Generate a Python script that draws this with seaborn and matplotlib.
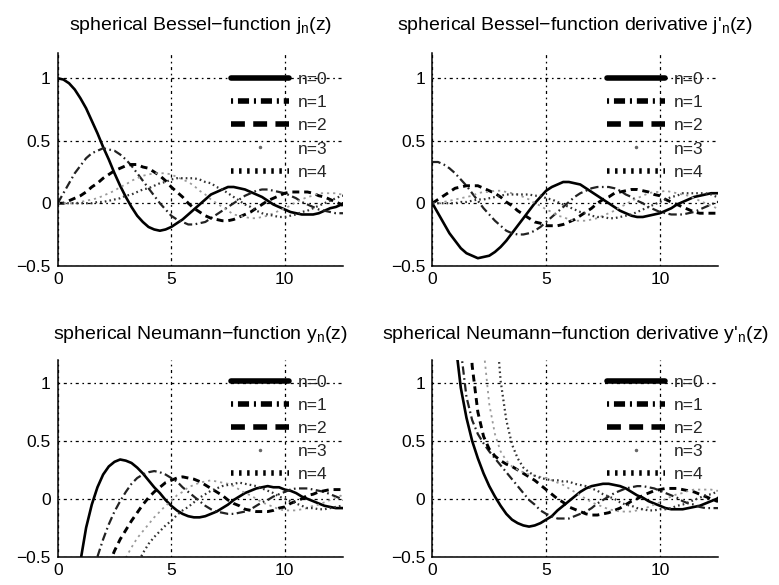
import numpy as np
import matplotlib
matplotlib.use("Agg")
import matplotlib.pyplot as plt
import seaborn as sns
from matplotlib.lines import Line2D

# ---------------- data (argument z, function values in hundredths) ----------------
z = [0, 0.25, 0.5, 0.75, 1.0, 1.25, 1.5, 1.75, 2.0, 2.25, 2.5, 2.75, 3.0, 3.25, 3.5,
     3.75, 4.0, 4.25, 4.5, 4.75, 5.0, 5.25, 5.5, 5.75, 6.0, 6.25, 6.5, 6.75, 7.0, 7.25,
     7.5, 7.75, 8.0, 8.25, 8.5, 8.75, 9.0, 9.25, 9.5, 9.75, 10.0, 10.25, 10.5, 10.75,
     11.0, 11.25, 11.5, 11.75, 12.0, 12.25, 12.5, 12.566]

j0 = [100, 99, 96, 91, 84, 76, 66, 56, 45, 35, 24, 14, 5, -3, -10, -15, -19, -21, -22, -21,
      -19, -16, -13, -9, -5, -1, 3, 7, 9, 11, 13, 13, 12, 11, 9, 7, 5, 2, -1, -3, -5, -7,
      -8, -9, -9, -9, -8, -6, -4, -3, -1, 0]
j1 = [0, 8, 16, 24, 30, 36, 40, 42, 44, 43, 42, 39, 35, 30, 24, 18, 12, 6, 0, -5, -10, -13,
      -15, -17, -17, -16, -15, -12, -9, -6, -3, 0, 3, 6, 8, 10, 11, 11, 10, 9, 8, 6, 4, 1,
      -1, -3, -5, -6, -7, -8, -8, -8]
j2 = [0, 0, 2, 4, 6, 9, 13, 16, 20, 23, 26, 28, 30, 31, 31, 29, 28, 25, 22, 18, 13, 9, 5, 0,
      -4, -7, -10, -12, -13, -14, -14, -13, -11, -9, -7, -4, -1, 2, 4, 6, 8, 9, 9, 9, 9, 8,
      6, 5, 3, 1, -1, -2]
j3 = [0, 0, 0, 0, 1, 2, 3, 4, 6, 8, 10, 13, 15, 18, 20, 22, 23, 24, 24, 24, 23, 21, 19, 17,
      14, 10, 7, 3, 0, -3, -6, -9, -10, -11, -12, -12, -11, -10, -8, -6, -4, -2, 1, 3, 5, 6,
      8, 8, 8, 8, 7, 7]
j4 = [0, 0, 0, 0, 0, 0, 0, 1, 1, 2, 3, 4, 6, 7, 9, 11, 12, 14, 16, 17, 19, 20, 20, 20, 20,
      19, 17, 16, 13, 11, 8, 5, 2, -1, -3, -6, -8, -9, -10, -11, -11, -10, -9, -7, -6, -4,
      -2, 0, 2, 4, 6, 6]

jd0 = [0, -8, -16, -24, -30, -36, -40, -42, -44, -43, -42, -39, -35, -30, -24, -18, -12, -6,
       0, 5, 10, 13, 15, 17, 17, 16, 15, 12, 9, 6, 3, 0, -3, -6, -8, -10, -11, -11, -10, -9,
       -8, -6, -4, -1, 1, 3, 5, 6, 7, 8, 8, 8]
jd1 = [33, 33, 31, 28, 24, 19, 14, 8, 2, -4, -9, -14, -18, -22, -24, -25, -25, -24, -22, -19,
       -15, -11, -7, -3, 1, 5, 8, 10, 12, 13, 13, 13, 12, 10, 7, 5, 2, 0, -3, -5, -7, -8, -9,
       -9, -9, -8, -7, -5, -3, -1, 1, 1]
jd2 = [0, 3, 6, 9, 12, 13, 14, 14, 14, 12, 10, 8, 5, 1, -2, -6, -9, -12, -15, -16, -18, -18,
       -18, -17, -15, -13, -10, -7, -4, 0, 3, 5, 8, 9, 10, 11, 11, 10, 9, 7, 6, 3, 1, -1, -3,
       -5, -7, -8, -8, -8, -8, -8]
jd3 = [0, 0, 1, 2, 3, 4, 5, 6, 8, 9, 9, 10, 10, 9, 8, 7, 5, 3, 0, -2, -5, -7, -10, -11, -13,
       -14, -14, -14, -13, -12, -10, -8, -6, -3, -1, 2, 4, 6, 8, 9, 9, 10, 9, 8, 7, 6, 4, 2,
       0, -2, -4, -4]
jd4 = [0, 0, 0, 0, 0, 1, 1, 2, 3, 3, 4, 5, 6, 7, 7, 7, 7, 7, 6, 6, 4, 3, 1, -1, -3, -5, -7,
       -8, -10, -11, -11, -12, -12, -11, -10, -9, -7, -5, -3, -1, 1, 3, 5, 6, 8, 8, 8, 8, 8,
       7, 5, 5]

y0 = [None, None, None, None, -54, -25, -5, 10, 21, 28, 32, 34, 33, 31, 27, 22, 16, 10, 5, -1,
      -6, -10, -13, -15, -16, -16, -15, -13, -11, -8, -5, -1, 2, 5, 7, 9, 10, 11, 10, 10, 8,
      7, 5, 2, 0, -2, -4, -6, -7, -8, -8, -8]
y1 = [None, None, None, None, None, None, None, -50, -35, -22, -11, -2, 6, 13, 18, 21, 23, 24,
      23, 21, 18, 15, 10, 6, 2, -2, -6, -9, -11, -12, -13, -13, -12, -11, -9, -6, -3, -1, 2,
      4, 6, 8, 9, 9, 9, 8, 7, 6, 4, 2, 0, -1]
y2 = [None, None, None, None, None, None, None, None, None, -57, -45, -35, -27, -19, -12, -5,
      1, 6, 10, 14, 16, 18, 19, 18, 17, 15, 12, 9, 6, 3, -1, -4, -6, -9, -10, -11, -11, -11,
      -10, -8, -7, -4, -2, 0, 3, 4, 6, 7, 8, 8, 8, 8]
y3 = [None, None, None, None, None, None, None, None, None, None, None, None, -51, -42, -34,
      -28, -22, -16, -11, -6, -2, 3, 6, 10, 12, 14, 15, 16, 15, 14, 13, 11, 8, 5, 3, 0, -3,
      -5, -7, -9, -10, -10, -10, -9, -8, -6, -5, -3, -1, 1, 3, 4]
y4 = [None, None, None, None, None, None, None, None, None, None, None, None, None, None, -57,
      -47, -39, -33, -28, -23, -19, -14, -10, -7, -3, 1, 4, 7, 9, 11, 12, 13, 14, 13, 12, 11,
      9, 7, 5, 2, 0, -2, -4, -6, -8, -8, -9, -9, -8, -7, -6, -6]

yd0 = [None, None, None, None, 138, 96, 70, 50, 35, 22, 11, 2, -6, -13, -18, -21, -23, -24,
       -23, -21, -18, -15, -10, -6, -2, 2, 6, 9, 11, 12, 13, 13, 12, 11, 9, 6, 3, 1, -2, -4,
       -6, -8, -9, -9, -9, -8, -7, -6, -4, -2, 0, 1]
yd1 = [None, None, None, None, None, 129, 88, 68, 56, 48, 41, 35, 29, 23, 17, 11, 5, -1, -5,
       -10, -13, -15, -17, -17, -17, -15, -13, -11, -8, -4, -1, 2, 5, 7, 9, 10, 11, 11, 10, 9,
       7, 5, 3, 1, -2, -4, -5, -7, -8, -8, -8, -8]
yd2 = [None, None, None, None, None, None, 199, 115, 75, 54, 43, 37, 33, 30, 28, 25, 22, 19,
       16, 12, 8, 4, 0, -3, -7, -9, -11, -13, -14, -14, -13, -12, -10, -8, -5, -2, 0, 3, 5,
       7, 8, 9, 9, 9, 8, 7, 6, 4, 2, 0, -2, -2]
yd3 = [None, None, None, None, None, None, None, None, None, 130, 82, 56, 41, 33, 28, 25, 23,
       21, 20, 19, 18, 16, 14, 12, 9, 6, 3, 0, -3, -5, -7, -9, -10, -11, -11, -11, -10, -9,
       -7, -5, -3, 0, 2, 4, 5, 7, 8, 8, 8, 8, 7, 7]
yd4 = [None, None, None, None, None, None, None, None, None, None, None, 163, 102, 68, 47, 35,
       27, 23, 20, 18, 17, 16, 16, 15, 15, 13, 12, 11, 9, 7, 4, 2, 0, -3, -5, -6, -8, -9,
       -10, -10, -9, -9, -8, -6, -5, -3, -1, 1, 3, 4, 6, 6]

labels = ["n=0", "n=1", "n=2", "n=3", "n=4"]
titles = ["spherical Bessel\u2212function j$_\\mathrm{n}$(z)",
          "spherical Bessel\u2212function derivative j'$_\\mathrm{n}$(z)",
          "spherical Neumann\u2212function y$_\\mathrm{n}$(z)",
          "spherical Neumann\u2212function derivative y'$_\\mathrm{n}$(z)"]
xticks = [0, 5, 10]
yticks = [-0.5, 0, 0.5, 1]
ytick_labels = ["\u22120.5", "0", "0.5", "1"]

# ---------------- style ----------------
sns.set_style("white")
plt.rcParams["font.family"] = ["Liberation Sans", "DejaVu Sans"]
plt.rcParams["mathtext.fontset"] = "custom"
plt.rcParams["mathtext.rm"] = "Liberation Sans"
plt.rcParams["mathtext.it"] = "Liberation Sans:italic"
plt.rcParams["lines.scale_dashes"] = False

line_styles = [
    dict(color="black", lw=1.9, linestyle="-"),
    dict(color="#222222", lw=1.6, linestyle=(0, (6, 2.5, 1.2, 2.5))),
    dict(color="black", lw=2.1, linestyle=(0, (5, 3.5))),
    dict(color="#9a9a9a", lw=1.3, linestyle=(0, (1.6, 2.8))),
    dict(color="#333333", lw=1.6, linestyle=(0, (1.2, 2.2))),
]
legend_handles = [
    Line2D([], [], color="black", lw=4, linestyle="-"),
    Line2D([], [], color="black", lw=4, linestyle=(0, (1.5, 3.5, 8, 3.5))),
    Line2D([], [], color="black", lw=4, linestyle=(0, (10, 6))),
    Line2D([], [], color="#666666", lw=0, linestyle="none", marker=".", markersize=3),
    Line2D([], [], color="black", lw=4, linestyle=(0, (1.8, 4))),
]

FS_TICK = 12.5
FS_TITLE = 14

panels = [
    (titles[0], [j0, j1, j2, j3, j4], [0.0741, 0.5458, 0.3662, 0.3631], 16.5, 0.912),
    (titles[1], [jd0, jd1, jd2, jd3, jd4], [0.5550, 0.5458, 0.3671, 0.3631], 16.5, 0.912),
    (titles[2], [y0, y1, y2, y3, y4], [0.0741, 0.0484, 0.3662, 0.3362], 15, 0.925),
    (titles[3], [yd0, yd1, yd2, yd3, yd4], [0.5550, 0.0484, 0.3671, 0.3362], 15, 0.925),
]

fig = plt.figure(figsize=(7.79, 5.85), dpi=100)
for title, series, rect, pad, ltop in panels:
    ax = fig.add_axes(rect)
    for vals, st in zip(series, line_styles):
        yv = np.array(vals, dtype=float) / 100.0
        sns.lineplot(x=z, y=yv, ax=ax, estimator=None, sort=False, legend=False, **st)
    ax.set_xlim(0, 4 * np.pi)
    ax.set_ylim(-0.5, 1.2)
    ax.set_xticks(xticks)
    ax.set_yticks(yticks)
    ax.set_yticklabels(ytick_labels)
    ax.set_xlabel("")
    ax.set_ylabel("")
    ax.tick_params(axis="both", length=0, labelsize=FS_TICK, colors="black")
    ax.tick_params(axis="x", pad=4.5)
    ax.tick_params(axis="y", pad=5)
    ax.grid(True, color="black", linestyle=(0, (1.2, 2.6, 2.2, 2.6)), lw=0.9)
    ax.set_axisbelow(True)
    for side in ["top", "right"]:
        ax.spines[side].set_visible(False)
    for side in ["left", "bottom"]:
        ax.spines[side].set_color("black")
        ax.spines[side].set_linewidth(1.1)
    ax.set_title(title, fontsize=FS_TITLE, pad=pad, color="black")
    ax.legend(legend_handles, labels, loc="upper right", bbox_to_anchor=(0.947, ltop),
              frameon=False, fontsize=FS_TICK, handlelength=3.35, handletextpad=0.5,
              labelspacing=0.46, borderpad=0, borderaxespad=0)

fig.savefig("out.png", dpi=100)
